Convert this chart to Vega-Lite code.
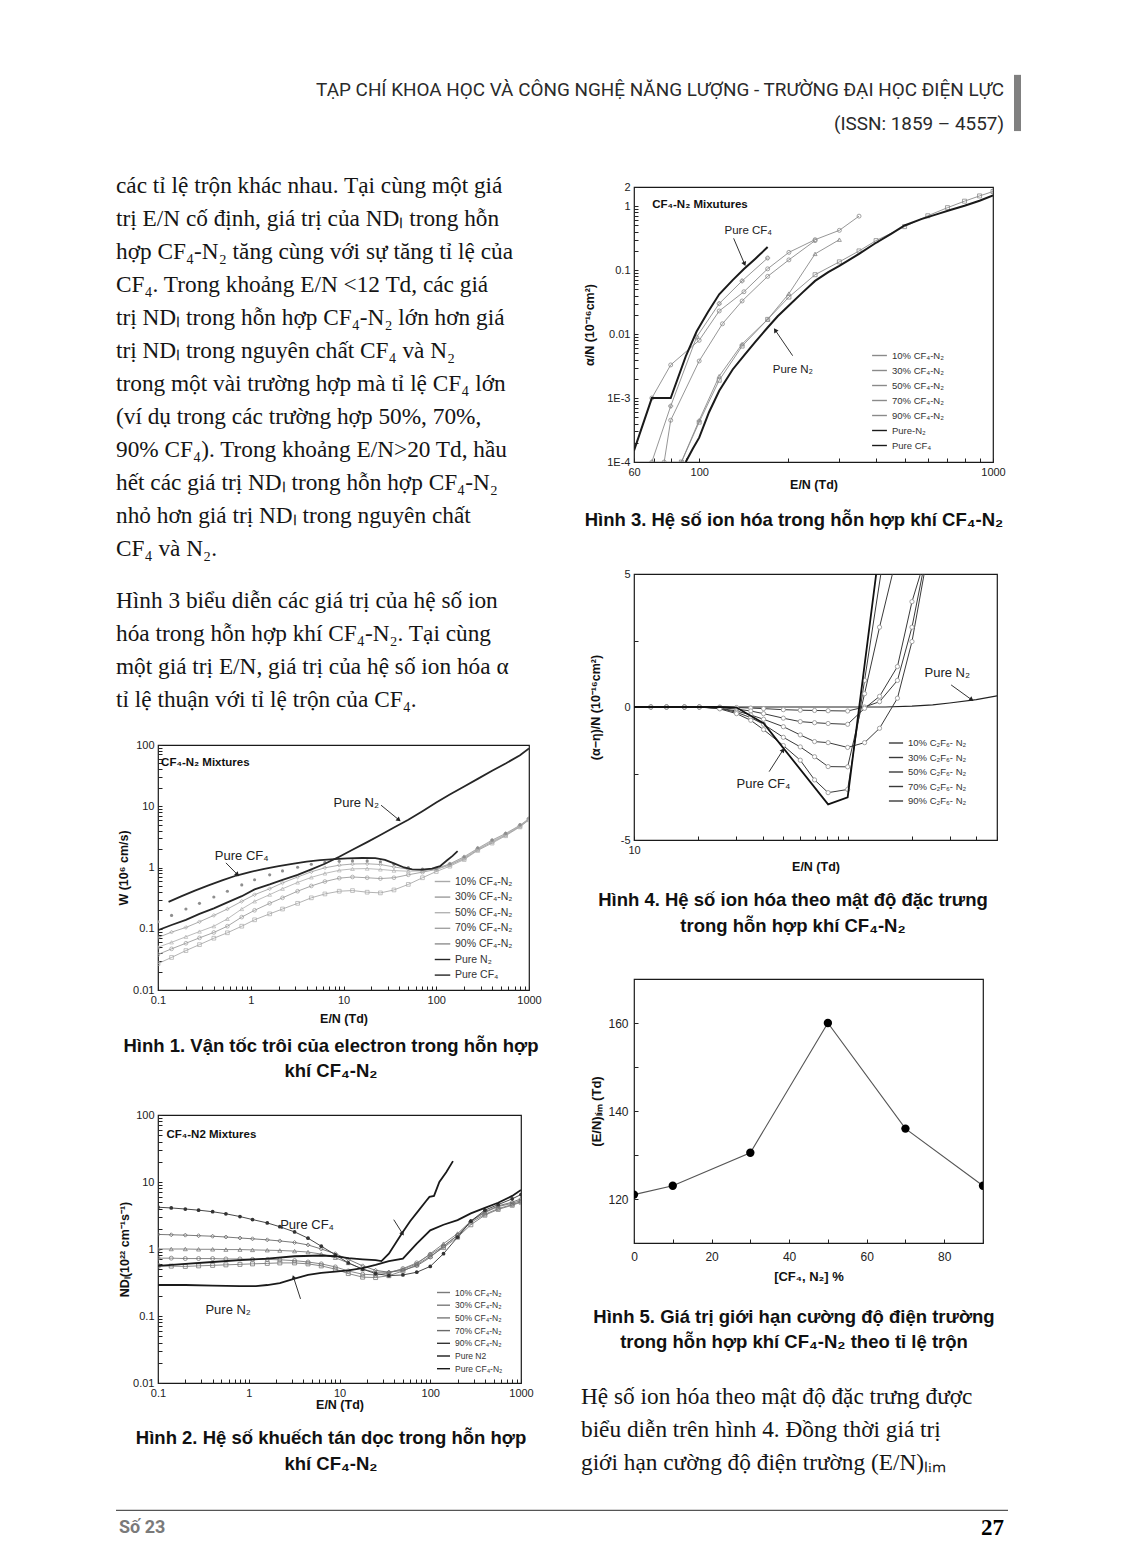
{
"$schema": "https://vega.github.io/schema/vega-lite/v6.json",
"background": "white",
"padding": {"left": 115, "top": 70, "right": 102, "bottom": 20},
"spacing": 0,
"resolve": {"scale": {"color": "independent", "shape": "independent"}, "legend": {"color": "independent", "shape": "independent"}},
"config": {
  "view": {"stroke": null},
  "font": "Liberation Sans",
  "axis": {"domain": false, "grid": false, "tickSize": -4, "tickColor": "#222", "tickWidth": 1, "labelFont": "Liberation Sans", "labelFontSize": 11, "labelColor": "#222", "labelPadding": 8, "labelFlush": false, "labelOverlap": false, "titleFont": "Liberation Sans", "titleFontSize": 12.5, "titleFontWeight": "bold", "titleColor": "#111", "titlePadding": 5},
  "legend": {"orient": "none", "title": null, "labelFont": "Liberation Sans", "labelColor": "#333", "symbolType": "stroke", "symbolStrokeWidth": 1.4, "padding": 0, "labelLimit": 300}
},
"datasets": {
  "f1": [
    {"s": "10% CF₄-N₂", "E": [0.1,0.14,0.2,0.28,0.4,0.56,0.8,1.1,1.6,2.2,3.2,4.5,6.3,9,12.5,18,25,35,50,71,100,140,200,280,400,560,800,1000], "W": [0.027,0.034,0.044,0.055,0.07,0.086,0.11,0.14,0.175,0.21,0.26,0.32,0.37,0.41,0.42,0.395,0.385,0.43,0.53,0.68,0.86,1.05,1.35,1.9,2.5,3.3,4.6,6.0]},
    {"s": "30% CF₄-N₂", "E": [0.1,0.14,0.2,0.28,0.4,0.56,0.8,1.1,1.6,2.2,3.2,4.5,6.3,9,12.5,18,25,35,50,71,100,140,200,280,400,560,800,1000], "W": [0.038,0.047,0.058,0.071,0.087,0.11,0.155,0.2,0.26,0.32,0.41,0.5,0.59,0.67,0.7,0.68,0.66,0.68,0.76,0.84,0.93,1.1,1.4,1.95,2.6,3.4,4.7,6.1]},
    {"s": "50% CF₄-N₂", "E": [0.1,0.14,0.2,0.28,0.4,0.56,0.8,1.1,1.6,2.2,3.2,4.5,6.3,9,12.5,18,25,35,50,71,100,140,200,280,400,560,800,1000], "W": [0.05,0.06,0.074,0.09,0.11,0.145,0.21,0.28,0.36,0.45,0.57,0.69,0.8,0.9,0.95,0.96,0.93,0.89,0.87,0.88,0.95,1.12,1.45,2.0,2.7,3.5,4.8,6.2]},
    {"s": "70% CF₄-N₂", "E": [0.1,0.14,0.2,0.28,0.4,0.56,0.8,1.1,1.6,2.2,3.2,4.5,6.3,9,12.5,18,25,35,50,71,100,140,200,280,400,560,800,1000], "W": [0.072,0.088,0.105,0.13,0.165,0.21,0.28,0.36,0.45,0.56,0.7,0.85,0.99,1.09,1.14,1.15,1.12,1.02,0.94,0.9,0.96,1.15,1.5,2.05,2.8,3.6,4.9,6.3]},
    {"s": "90% CF₄-N₂", "E": [0.1,0.14,0.2,0.28,0.4,0.56,0.8,1.1,1.6,2.2,3.2,4.5,6.3,9,12.5,18,25,35,50,71,100,140,200,280,400,560,800,1000], "W": [0.13,0.165,0.21,0.26,0.33,0.41,0.52,0.63,0.76,0.88,1.01,1.13,1.21,1.26,1.28,1.28,1.24,1.13,1.0,0.94,0.96,1.15,1.5,2.1,2.8,3.6,5.0,6.4]},
    {"s": "Pure N₂", "E": [0.1,0.14,0.2,0.28,0.4,0.56,0.8,1.1,1.6,2.2,3.2,4.5,6.3,9,12.5,18,25,35,50,71,100,140,200,280,400,560,800,1000], "W": [0.095,0.115,0.14,0.175,0.215,0.27,0.34,0.44,0.53,0.63,0.76,0.93,1.15,1.5,1.95,2.6,3.4,4.5,6.0,8.3,11.5,15.5,21,28,38,50,68,88]},
    {"s": "Pure CF₄", "E": [0.13,0.18,0.25,0.35,0.5,0.7,1,1.4,2,2.8,4,5.6,8,11,16,22,28,35,45,55,70,90,110,130,150,170], "W": [0.275,0.34,0.42,0.51,0.62,0.74,0.85,0.95,1.05,1.15,1.25,1.32,1.37,1.41,1.43,1.42,1.33,1.17,1.0,0.93,0.92,0.96,1.05,1.3,1.55,1.85]}
  ],
  "f2": [
    {"s": "10% CF₄-N₂", "E": [0.1,0.14,0.2,0.28,0.4,0.56,0.8,1.1,1.6,2.2,3.2,4.5,6.3,9,12.5,18,25,35,50,71,100,140,200,280,400,560,800,1000], "V": [0.56,0.555,0.55,0.56,0.57,0.58,0.59,0.6,0.61,0.62,0.62,0.6,0.56,0.5,0.43,0.38,0.375,0.4,0.47,0.58,0.78,1.05,1.5,2.3,3.2,3.9,4.5,5.0]},
    {"s": "30% CF₄-N₂", "E": [0.1,0.14,0.2,0.28,0.4,0.56,0.8,1.1,1.6,2.2,3.2,4.5,6.3,9,12.5,18,25,35,50,71,100,140,200,280,400,560,800,1000], "V": [0.73,0.73,0.72,0.72,0.72,0.71,0.71,0.7,0.7,0.69,0.67,0.64,0.6,0.54,0.47,0.42,0.41,0.44,0.51,0.62,0.83,1.1,1.6,2.5,3.3,4.0,4.6,5.1]},
    {"s": "50% CF₄-N₂", "E": [0.1,0.14,0.2,0.28,0.4,0.56,0.8,1.1,1.6,2.2,3.2,4.5,6.3,9,12.5,18,25,35,50,71,100,140,200,280,400,560,800,1000], "V": [1.0,1.0,1.0,0.99,0.99,0.98,0.98,0.97,0.96,0.95,0.93,0.9,0.84,0.74,0.62,0.5,0.45,0.45,0.5,0.6,0.85,1.2,1.7,2.6,3.5,4.3,4.8,5.3]},
    {"s": "70% CF₄-N₂", "E": [0.1,0.14,0.2,0.28,0.4,0.56,0.8,1.1,1.6,2.2,3.2,4.5,6.3,9,12.5,18,25,35,50,71,100,140,200,280,400,560,800,1000], "V": [1.65,1.63,1.61,1.58,1.55,1.51,1.46,1.42,1.37,1.32,1.25,1.15,1.0,0.85,0.7,0.56,0.48,0.45,0.48,0.56,0.75,1.1,1.6,2.6,3.6,4.4,5.0,5.6]},
    {"s": "90% CF₄-N₂", "E": [0.1,0.14,0.2,0.28,0.4,0.56,0.8,1.1,1.6,2.2,3.2,4.5,6.3,9,12.5,18,25,35,50,71,100,140,200,280,400,560,800,1000], "V": [4.2,4.1,3.95,3.8,3.6,3.35,3.05,2.75,2.45,2.15,1.8,1.45,1.1,0.82,0.62,0.5,0.43,0.4,0.41,0.45,0.55,0.85,1.5,2.6,3.8,4.6,5.6,6.5]},
    {"s": "Pure N2", "E": [0.1,0.2,0.4,0.8,1.2,1.6,2.2,3.2,4.5,6.3,9,12.5,18,25,35,50,71,100,140,200,280,400,560,800,1000], "V": [0.29,0.29,0.285,0.28,0.28,0.29,0.31,0.36,0.41,0.44,0.46,0.48,0.52,0.58,0.66,0.72,1.2,1.9,2.3,2.7,3.4,4.1,4.9,6.2,7.6]},
    {"s": "Pure CF₄-N₂", "E": [0.1,0.2,0.4,0.8,1.6,3.2,6.3,9,12.5,18,25,29,35,49,60,75,90,98,110,126,150,178], "V": [0.56,0.6,0.64,0.68,0.72,0.78,0.8,0.78,0.73,0.7,0.68,0.66,0.85,1.73,2.6,3.8,5.2,6.0,6.2,10,14,20.5]}
  ],
  "f3": [
    {"s": "10% CF₄-N₂", "E": [87,100,117,140,171,202,248,300,350,400,500,600,700,800,900,1000], "a": [0.0001,0.00042,0.0019,0.0065,0.017,0.038,0.085,0.135,0.2,0.29,0.48,0.71,0.95,1.2,1.45,1.7]},
    {"s": "30% CF₄-N₂", "E": [76,80,100,120,140,171,202,248], "a": [0.0001,0.00045,0.0038,0.0145,0.033,0.08,0.145,0.29]},
    {"s": "50% CF₄-N₂", "E": [87,100,117,140,171,202,248,300], "a": [0.0001,0.00045,0.0022,0.007,0.017,0.043,0.18,0.3]},
    {"s": "70% CF₄-N₂", "E": [69,80,100,117,142,171,202,248,300,350], "a": [0.001,0.0033,0.008,0.023,0.046,0.105,0.19,0.3,0.42,0.7]},
    {"s": "90% CF₄-N₂", "E": [69,80,98,117,140,171], "a": [0.0001,0.00075,0.009,0.03,0.068,0.155]},
    {"s": "Pure-N₂", "E": [90,95,100,108,117,130,142,155,171,185,202,225,248,275,300,350,394,450,500,570,650,720,800,900,1000], "a": [0.0001,0.00016,0.00024,0.0006,0.0013,0.0028,0.0046,0.0075,0.0127,0.019,0.028,0.045,0.068,0.093,0.117,0.18,0.257,0.37,0.5,0.63,0.76,0.88,1.02,1.22,1.47]},
    {"s": "Pure CF₄", "E": [60,69,80,90,98,107,117,130,142,155,171], "a": [0.00015,0.001,0.001,0.0045,0.011,0.022,0.042,0.07,0.104,0.15,0.23]}
  ],
  "f4": [
    {"s": "10% C₂F₆- N₂", "E": [12,14.2,17.2,20.2,25.2,30.2,35.2,40.4,50,60,70,81,100,120,141,171,200,224], "v": [0,0,0,0,0,-0.02,-0.04,-0.06,-0.1,-0.12,-0.13,-0.14,-0.15,0,0.2,1.0,3.0,5]},
    {"s": "30% C₂F₆- N₂", "E": [12,14.2,17.2,20.2,25.2,30.2,35.2,40.4,50,60,70,81,100,120,141,171,200,219], "v": [0,0,0,0,-0.02,-0.08,-0.15,-0.25,-0.42,-0.55,-0.59,-0.62,-0.65,-0.05,0.4,1.52,3.96,5]},
    {"s": "50% C₂F₆- N₂", "E": [12,14.2,17.2,20.2,25.2,30.2,35.2,40.4,50,60,70,81,100,120,141,171,200,228], "v": [0,0,0,0,-0.05,-0.15,-0.3,-0.46,-0.74,-1.05,-1.3,-1.34,-1.52,-1.34,-0.8,0.33,2.46,5]},
    {"s": "70% C₂F₆- N₂", "E": [12,14.2,17.2,20.2,25.2,30.2,35.2,40.4,50,60,70,81,100,120,141,162], "v": [0,0,0,0,-0.05,-0.2,-0.4,-0.65,-1.14,-1.5,-1.87,-2.24,-2.25,0.5,3.0,5]},
    {"s": "90% C₂F₆- N₂", "E": [12,14.2,17.2,20.2,25.2,30.2,35.2,40.4,50,60,70,81,100,120,143], "v": [0,0,0,0,-0.07,-0.25,-0.5,-0.85,-1.45,-2.0,-2.74,-3.22,-3.1,1.0,5]},
    {"s": "Pure CF₄", "E": [10,25.2,30.2,40.4,81,100,136], "v": [0,0,-0.02,-0.61,-3.66,-3.4,5]},
    {"s": "Pure N₂", "E": [10,150,200,250,300,400,500], "v": [0,0,0.03,0.08,0.15,0.28,0.42]}
  ],
  "f5": [
    {"p": 0, "v": 121}, {"p": 10, "v": 123}, {"p": 30, "v": 130.5}, {"p": 50, "v": 160}, {"p": 70, "v": 136}, {"p": 90, "v": 123}
  ]
},
"vconcat": [
  {
    "width": 863, "height": 95,
    "layer": [
      {"data": {"values": [{"i": 0, "t": "TẠP CHÍ KHOA HỌC VÀ CÔNG NGHỆ NĂNG LƯỢNG - TRƯỜNG ĐẠI HỌC ĐIỆN LỰC"}, {"i": 1, "t": "(ISSN: 1859 – 4557)"}]},
       "mark": {"type": "text", "align": "right", "baseline": "middle", "font": "Roboto", "fontSize": 18.9, "color": "#2a2a2a"},
       "encoding": {
         "x": {"datum": 0.9803, "type": "quantitative", "scale": {"domain": [0, 1]}, "axis": null},
         "y": {"field": "i", "type": "quantitative", "scale": {"domain": [-0.5143, 2.2], "reverse": true}, "axis": null},
         "text": {"field": "t"}}},
      {"data": {"values": [{}]},
       "mark": {"type": "rect", "color": "#808080"},
       "encoding": {
         "x": {"datum": 0.9919, "type": "quantitative"}, "x2": {"datum": 1.0},
         "y": {"datum": -0.457, "type": "quantitative"}, "y2": {"datum": 1.2}}}
    ]
  },
  {
    "spacing": 15,
    "resolve": {"scale": {"color": "independent", "shape": "independent"}, "legend": {"color": "independent", "shape": "independent"}},
    "hconcat": [
      {
        "bounds": "flush", "spacing": 0,
        "resolve": {"scale": {"color": "independent", "shape": "independent"}, "legend": {"color": "independent", "shape": "independent"}},
        "vconcat": [
          {
            "width": 408, "height": 405,
            "data": {"values": [
              {"i": 0, "t": "các tỉ lệ trộn khác nhau. Tại cùng một giá"},
              {"i": 1, "t": "trị E/N cố định, giá trị của NDₗ trong hỗn"},
              {"i": 2, "t": "hợp CF₄-N₂ tăng cùng với sự tăng tỉ lệ của"},
              {"i": 3, "t": "CF₄. Trong khoảng E/N <12 Td, các giá"},
              {"i": 4, "t": "trị NDₗ trong hỗn hợp CF₄-N₂ lớn hơn giá"},
              {"i": 5, "t": "trị NDₗ trong nguyên chất CF₄ và N₂"},
              {"i": 6, "t": "trong một vài trường hợp mà tỉ lệ CF₄ lớn"},
              {"i": 7, "t": "(ví dụ trong các trường hợp 50%, 70%,"},
              {"i": 8, "t": "90% CF₄). Trong khoảng E/N>20 Td, hầu"},
              {"i": 9, "t": "hết các giá trị NDₗ trong hỗn hợp CF₄-N₂"},
              {"i": 10, "t": "nhỏ hơn giá trị NDₗ trong nguyên chất"},
              {"i": 11, "t": "CF₄ và N₂."}
            ]},
            "mark": {"type": "text", "align": "left", "baseline": "middle", "font": "Liberation Serif", "fontSize": 23.3, "color": "#151515", "dx": -42},
            "encoding": {
              "x": {"datum": 0, "type": "quantitative", "scale": {"domain": [0, 1]}, "axis": null},
              "y": {"field": "i", "type": "quantitative", "scale": {"domain": [-0.6364, 11.6364], "reverse": true}, "axis": null},
              "text": {"field": "t"}}
          },
          {
            "width": 408, "height": 175,
            "data": {"values": [
              {"i": 0, "t": "Hình 3 biểu diễn các giá trị của hệ số ion"},
              {"i": 1, "t": "hóa trong hỗn hợp khí CF₄-N₂. Tại cùng"},
              {"i": 2, "t": "một giá trị E/N, giá trị của hệ số ion hóa α"},
              {"i": 3, "t": "tỉ lệ thuận với tỉ lệ trộn của CF₄."}
            ]},
            "mark": {"type": "text", "align": "left", "baseline": "middle", "font": "Liberation Serif", "fontSize": 23.3, "color": "#151515", "dx": -42},
            "encoding": {
              "x": {"datum": 0, "type": "quantitative", "scale": {"domain": [0, 1]}, "axis": null},
              "y": {"field": "i", "type": "quantitative", "scale": {"domain": [-0.9394, 4.3636], "reverse": true}, "axis": null},
              "text": {"field": "t"}}
          },
          {
            "width": 371, "height": 245,
            "view": {"stroke": "#1a1a1a", "strokeWidth": 1.2},
            "encoding": {
              "x": {"field": "E", "type": "quantitative", "scale": {"type": "log", "domain": [0.1, 1000]},
                    "axis": {"title": "E/N (Td)", "format": "~g", "values": [0.1,0.2,0.3,0.4,0.5,0.6,0.7,0.8,0.9,1,2,3,4,5,6,7,8,9,10,20,30,40,50,60,70,80,90,100,200,300,400,500,600,700,800,900,1000],
                             "labelExpr": "abs(log(datum.value)/LN10 - round(log(datum.value)/LN10)) < 0.01 ? datum.label : ''", "titlePadding": 7}},
              "y": {"field": "W", "type": "quantitative", "scale": {"type": "log", "domain": [0.01, 100]},
                    "axis": {"title": "W (10⁶ cm/s)", "format": "~g", "titlePadding": 2, "values": [0.01,0.02,0.03,0.04,0.05,0.06,0.07,0.08,0.09,0.1,0.2,0.3,0.4,0.5,0.6,0.7,0.8,0.9,1,2,3,4,5,6,7,8,9,10,20,30,40,50,60,70,80,90,100],
                             "labelExpr": "abs(log(datum.value)/LN10 - round(log(datum.value)/LN10)) < 0.01 ? datum.label : ''"}}
            },
            "layer": [
              {"data": {"name": "f1"}, "transform": [{"flatten": ["E", "W"]}, {"filter": {"field": "s", "oneOf": ["10% CF₄-N₂", "30% CF₄-N₂", "50% CF₄-N₂", "70% CF₄-N₂"]}}],
               "mark": {"type": "line", "strokeWidth": 0.9, "clip": true},
               "encoding": {"color": {"field": "s", "type": "nominal",
                  "scale": {"domain": ["10% CF₄-N₂", "30% CF₄-N₂", "50% CF₄-N₂", "70% CF₄-N₂", "90% CF₄-N₂", "Pure N₂", "Pure CF₄"], "range": ["#a9a9a9", "#9c9c9c", "#b3b3b3", "#a2a2a2", "#8e8e8e", "#262626", "#262626"]},
                  "legend": {"orient": "none", "legendX": 276, "legendY": 128, "labelFontSize": 10.5, "symbolSize": 240, "rowPadding": 1.6}}}},
              {"data": {"name": "f1"}, "transform": [{"flatten": ["E", "W"]}, {"filter": {"field": "s", "oneOf": ["10% CF₄-N₂", "30% CF₄-N₂", "50% CF₄-N₂", "70% CF₄-N₂"]}}],
               "mark": {"type": "point", "filled": false, "size": 14, "strokeWidth": 0.7, "opacity": 1, "clip": true},
               "encoding": {"color": {"field": "s", "type": "nominal"},
                  "shape": {"field": "s", "type": "nominal", "scale": {"domain": ["10% CF₄-N₂", "30% CF₄-N₂", "50% CF₄-N₂", "70% CF₄-N₂"], "range": ["square", "circle", "triangle-up", "diamond"]}, "legend": null}}},
              {"data": {"name": "f1"}, "transform": [{"flatten": ["E", "W"]}, {"filter": {"field": "s", "equal": "90% CF₄-N₂"}}],
               "mark": {"type": "point", "filled": true, "size": 10, "opacity": 1, "clip": true},
               "encoding": {"color": {"field": "s", "type": "nominal"}}},
              {"data": {"name": "f1"}, "transform": [{"flatten": ["E", "W"]}, {"filter": {"field": "s", "oneOf": ["Pure N₂", "Pure CF₄"]}}],
               "mark": {"type": "line", "strokeWidth": 1.8, "clip": true},
               "encoding": {"color": {"field": "s", "type": "nominal"}}},
              {"data": {"values": [{"E": 0.108, "W": 50, "t": "CF₄-N₂ Mixtures"}]},
               "mark": {"type": "text", "align": "left", "baseline": "middle", "fontWeight": "bold", "fontSize": 11.5, "color": "#111"},
               "encoding": {"text": {"field": "t"}}},
              {"data": {"values": [{"E": 7.8, "W": 11.4, "t": "Pure N₂"}, {"E": 0.41, "W": 1.53, "t": "Pure CF₄"}]},
               "mark": {"type": "text", "align": "left", "baseline": "middle", "fontSize": 13, "color": "#222"},
               "encoding": {"text": {"field": "t"}}},
              {"data": {"values": [{"E": 25.4, "W": 10.4, "E2": 39, "W2": 6.1}, {"E": 0.54, "W": 1.19, "E2": 0.71, "W2": 0.78}]},
               "mark": {"type": "rule", "color": "#333", "strokeWidth": 1},
               "encoding": {"x2": {"field": "E2"}, "y2": {"field": "W2"}}},
              {"data": {"values": [{"E": 39, "W": 6.1}]}, "mark": {"type": "point", "shape": "triangle", "angle": 129, "filled": true, "size": 26, "color": "#222", "opacity": 1}},
              {"data": {"values": [{"E": 0.71, "W": 0.78}]}, "mark": {"type": "point", "shape": "triangle", "angle": 135, "filled": true, "size": 26, "color": "#222", "opacity": 1}}
            ]
          },
          {
            "width": 346, "height": 125,
            "data": {"values": [{"i": 0, "t": "Hình 1. Vận tốc trôi của electron trong hỗn hợp"}, {"i": 1, "t": "khí CF₄-N₂"}]},
            "mark": {"type": "text", "align": "center", "baseline": "middle", "font": "Liberation Sans", "fontWeight": "bold", "fontSize": 18.5, "color": "#111"},
            "encoding": {
              "x": {"datum": 0.5, "type": "quantitative", "scale": {"domain": [0, 1]}, "axis": null},
              "y": {"field": "i", "type": "quantitative", "scale": {"domain": [-2.24, 2.76], "reverse": true}, "axis": null},
              "text": {"field": "t"}}
          },
          {
            "width": 363, "height": 268,
            "view": {"stroke": "#1a1a1a", "strokeWidth": 1.2},
            "encoding": {
              "x": {"field": "E", "type": "quantitative", "scale": {"type": "log", "domain": [0.1, 1000]},
                    "axis": {"title": "E/N (Td)", "format": "~g", "values": [0.1,0.2,0.3,0.4,0.5,0.6,0.7,0.8,0.9,1,2,3,4,5,6,7,8,9,10,20,30,40,50,60,70,80,90,100,200,300,400,500,600,700,800,900,1000],
                             "labelExpr": "abs(log(datum.value)/LN10 - round(log(datum.value)/LN10)) < 0.01 ? datum.label : ''", "titlePadding": 0}},
              "y": {"field": "V", "type": "quantitative", "scale": {"type": "log", "domain": [0.01, 100]},
                    "axis": {"title": "NDₗ(10²² cm⁻¹s⁻¹)", "format": "~g", "titlePadding": 1, "values": [0.01,0.02,0.03,0.04,0.05,0.06,0.07,0.08,0.09,0.1,0.2,0.3,0.4,0.5,0.6,0.7,0.8,0.9,1,2,3,4,5,6,7,8,9,10,20,30,40,50,60,70,80,90,100],
                             "labelExpr": "abs(log(datum.value)/LN10 - round(log(datum.value)/LN10)) < 0.01 ? datum.label : ''"}}
            },
            "layer": [
              {"data": {"name": "f2"}, "transform": [{"flatten": ["E", "V"]}, {"filter": {"field": "s", "oneOf": ["10% CF₄-N₂", "30% CF₄-N₂", "50% CF₄-N₂", "70% CF₄-N₂", "90% CF₄-N₂"]}}],
               "mark": {"type": "line", "strokeWidth": 0.9, "clip": true},
               "encoding": {"color": {"field": "s", "type": "nominal",
                  "scale": {"domain": ["10% CF₄-N₂", "30% CF₄-N₂", "50% CF₄-N₂", "70% CF₄-N₂", "90% CF₄-N₂", "Pure N2", "Pure CF₄-N₂"], "range": ["#7a7a7a", "#7a7a7a", "#7a7a7a", "#6a6a6a", "#333333", "#1a1a1a", "#1a1a1a"]},
                  "legend": {"orient": "none", "legendX": 278, "legendY": 170, "labelFontSize": 8.5, "symbolSize": 170, "rowPadding": 0.7}}}},
              {"data": {"name": "f2"}, "transform": [{"flatten": ["E", "V"]}, {"filter": {"field": "s", "oneOf": ["10% CF₄-N₂", "30% CF₄-N₂", "50% CF₄-N₂", "70% CF₄-N₂"]}}],
               "mark": {"type": "point", "filled": false, "size": 16, "strokeWidth": 0.8, "opacity": 1, "clip": true},
               "encoding": {"color": {"field": "s", "type": "nominal"},
                  "shape": {"field": "s", "type": "nominal", "scale": {"domain": ["10% CF₄-N₂", "30% CF₄-N₂", "50% CF₄-N₂", "70% CF₄-N₂"], "range": ["square", "circle", "triangle-up", "diamond"]}, "legend": null}}},
              {"data": {"name": "f2"}, "transform": [{"flatten": ["E", "V"]}, {"filter": {"field": "s", "equal": "90% CF₄-N₂"}}],
               "mark": {"type": "point", "filled": true, "size": 14, "opacity": 1, "clip": true},
               "encoding": {"color": {"field": "s", "type": "nominal"}}},
              {"data": {"name": "f2"}, "transform": [{"flatten": ["E", "V"]}, {"filter": {"field": "s", "oneOf": ["Pure N2", "Pure CF₄-N₂"]}}],
               "mark": {"type": "line", "strokeWidth": 1.8, "clip": true},
               "encoding": {"color": {"field": "s", "type": "nominal"}}},
              {"data": {"values": [{"E": 0.124, "V": 51, "t": "CF₄-N2 Mixtures"}]},
               "mark": {"type": "text", "align": "left", "baseline": "middle", "fontWeight": "bold", "fontSize": 11.5, "color": "#111"},
               "encoding": {"text": {"field": "t"}}},
              {"data": {"values": [{"E": 2.22, "V": 2.31, "t": "Pure CF₄"}, {"E": 0.333, "V": 0.124, "t": "Pure N₂"}]},
               "mark": {"type": "text", "align": "left", "baseline": "middle", "fontSize": 13, "color": "#222"},
               "encoding": {"text": {"field": "t"}}},
              {"data": {"values": [{"E": 3.72, "V": 0.18, "E2": 3.13, "V2": 0.37}, {"E": 39.6, "V": 2.74, "E2": 49.1, "V2": 1.73}]},
               "mark": {"type": "rule", "color": "#333", "strokeWidth": 1},
               "encoding": {"x2": {"field": "E2"}, "y2": {"field": "V2"}}},
              {"data": {"values": [{"E": 3.13, "V": 0.37}]}, "mark": {"type": "point", "shape": "triangle", "angle": 342, "filled": true, "size": 26, "color": "#222", "opacity": 1}},
              {"data": {"values": [{"E": 49.1, "V": 1.73}]}, "mark": {"type": "point", "shape": "triangle", "angle": 148, "filled": true, "size": 26, "color": "#222", "opacity": 1}}
            ]
          },
          {
            "width": 346, "height": 117,
            "data": {"values": [{"i": 0, "t": "Hình 2. Hệ số khuếch tán dọc trong hỗn hợp"}, {"i": 1, "t": "khí CF₄-N₂"}]},
            "mark": {"type": "text", "align": "center", "baseline": "middle", "font": "Liberation Sans", "fontWeight": "bold", "fontSize": 18.5, "color": "#111"},
            "encoding": {
              "x": {"datum": 0.5, "type": "quantitative", "scale": {"domain": [0, 1]}, "axis": null},
              "y": {"field": "i", "type": "quantitative", "scale": {"domain": [-2.1154, 2.3846], "reverse": true}, "axis": null},
              "text": {"field": "t"}}
          }
        ]
      },
      {
        "bounds": "flush", "spacing": 0,
        "resolve": {"scale": {"color": "independent", "shape": "independent"}, "legend": {"color": "independent", "shape": "independent"}},
        "vconcat": [
          {"width": 359, "height": 22, "data": {"values": [{"t": ""}]}, "mark": "text", "encoding": {"text": {"field": "t"}}},
          {
            "width": 359, "height": 275,
            "view": {"stroke": "#1a1a1a", "strokeWidth": 1.2},
            "encoding": {
              "x": {"field": "E", "type": "quantitative", "scale": {"type": "log", "domain": [60, 1000]},
                    "axis": {"title": "E/N (Td)", "format": "~g", "values": [60,70,80,90,100,200,300,400,500,600,700,800,900,1000],
                             "labelExpr": "indexof([60,100,1000], datum.value) >= 0 ? datum.label : ''", "titlePadding": 1}},
              "y": {"field": "a", "type": "quantitative", "scale": {"type": "log", "domain": [0.0001, 2]},
                    "axis": {"title": "α/N (10⁻¹⁶cm²)", "format": "~g", "titlePadding": 10,
                             "values": [0.0001,0.0002,0.0003,0.0004,0.0005,0.0006,0.0007,0.0008,0.0009,0.001,0.002,0.003,0.004,0.005,0.006,0.007,0.008,0.009,0.01,0.02,0.03,0.04,0.05,0.06,0.07,0.08,0.09,0.1,0.2,0.3,0.4,0.5,0.6,0.7,0.8,0.9,1,2],
                             "labelExpr": "datum.value == 2 ? '2' : (abs(log(datum.value)/LN10 - round(log(datum.value)/LN10)) < 0.01 ? (datum.value >= 0.01 ? datum.label : (datum.value > 0.0005 ? '1E-3' : '1E-4')) : '')"}}
            },
            "layer": [
              {"data": {"name": "f3"}, "transform": [{"flatten": ["E", "a"]}, {"filter": {"field": "s", "oneOf": ["10% CF₄-N₂", "30% CF₄-N₂", "50% CF₄-N₂", "70% CF₄-N₂", "90% CF₄-N₂"]}}],
               "mark": {"type": "line", "strokeWidth": 0.9, "clip": true},
               "encoding": {"color": {"field": "s", "type": "nominal",
                  "scale": {"domain": ["10% CF₄-N₂", "30% CF₄-N₂", "50% CF₄-N₂", "70% CF₄-N₂", "90% CF₄-N₂", "Pure-N₂", "Pure CF₄"], "range": ["#8a8a8a", "#8a8a8a", "#8a8a8a", "#8a8a8a", "#8a8a8a", "#1a1a1a", "#1a1a1a"]},
                  "legend": {"orient": "none", "legendX": 237, "legendY": 160, "labelFontSize": 9.5, "symbolSize": 220, "rowPadding": 2}}}},
              {"data": {"name": "f3"}, "transform": [{"flatten": ["E", "a"]}, {"filter": {"field": "s", "oneOf": ["10% CF₄-N₂", "30% CF₄-N₂", "50% CF₄-N₂", "70% CF₄-N₂", "90% CF₄-N₂"]}}],
               "mark": {"type": "point", "filled": false, "size": 16, "strokeWidth": 0.8, "opacity": 1, "clip": true},
               "encoding": {"color": {"field": "s", "type": "nominal"},
                  "shape": {"field": "s", "type": "nominal", "scale": {"domain": ["10% CF₄-N₂", "30% CF₄-N₂", "50% CF₄-N₂", "70% CF₄-N₂", "90% CF₄-N₂"], "range": ["square", "circle", "triangle-up", "circle", "cross"]}, "legend": null}}},
              {"data": {"name": "f3"}, "transform": [{"flatten": ["E", "a"]}, {"filter": {"field": "s", "oneOf": ["Pure-N₂", "Pure CF₄"]}}],
               "mark": {"type": "line", "strokeWidth": 2, "clip": true},
               "encoding": {"color": {"field": "s", "type": "nominal"}}},
              {"data": {"values": [{"E": 69.2, "a": 1.06, "t": "CF₄-N₂ Mixutures"}]},
               "mark": {"type": "text", "align": "left", "baseline": "middle", "fontWeight": "bold", "fontSize": 11.5, "color": "#111"},
               "encoding": {"text": {"field": "t"}}},
              {"data": {"values": [{"E": 122, "a": 0.416, "t": "Pure CF₄"}, {"E": 178, "a": 0.0027, "t": "Pure N₂"}]},
               "mark": {"type": "text", "align": "left", "baseline": "middle", "fontSize": 11.5, "color": "#222"},
               "encoding": {"text": {"field": "t"}}},
              {"data": {"values": [{"E": 131, "a": 0.315, "E2": 142.4, "a2": 0.128}, {"E": 208, "a": 0.0046, "E2": 182, "a2": 0.0113}]},
               "mark": {"type": "rule", "color": "#333", "strokeWidth": 1},
               "encoding": {"x2": {"field": "E2"}, "y2": {"field": "a2"}}},
              {"data": {"values": [{"E": 142.4, "a": 0.128}]}, "mark": {"type": "point", "shape": "triangle", "angle": 157, "filled": true, "size": 26, "color": "#222", "opacity": 1}},
              {"data": {"values": [{"E": 182, "a": 0.0113}]}, "mark": {"type": "point", "shape": "triangle", "angle": 326, "filled": true, "size": 26, "color": "#222", "opacity": 1}}
            ]
          },
          {
            "width": 320, "height": 112,
            "data": {"values": [{"i": 0, "t": "Hình 3. Hệ số ion hóa trong hỗn hợp khí CF₄-N₂"}]},
            "mark": {"type": "text", "align": "center", "baseline": "middle", "font": "Liberation Sans", "fontWeight": "bold", "fontSize": 18.5, "color": "#111"},
            "encoding": {
              "x": {"datum": 0.5, "type": "quantitative", "scale": {"domain": [0, 1]}, "axis": null},
              "y": {"field": "i", "type": "quantitative", "scale": {"domain": [-2.32, 2.16], "reverse": true}, "axis": null},
              "text": {"field": "t"}}
          },
          {
            "width": 363, "height": 266,
            "view": {"stroke": "#1a1a1a", "strokeWidth": 1.2},
            "encoding": {
              "x": {"field": "E", "type": "quantitative", "scale": {"type": "log", "domain": [10, 500]},
                    "axis": {"title": "E/N (Td)", "values": [10,20,30,40,50,60,70,80,90,100,200,300,400,500],
                             "labelExpr": "datum.value == 10 ? '10' : ''", "titlePadding": 5}},
              "y": {"field": "v", "type": "quantitative", "scale": {"domain": [-5, 5]},
                    "axis": {"title": "(α−η)/N (10⁻¹⁶cm²)", "values": [-5, -2.5, 0, 2.5, 5], "titlePadding": 18,
                             "labelExpr": "datum.value == 5 ? '5' : (datum.value == 0 ? '0' : (datum.value == -5 ? '-5' : ''))"}}
            },
            "layer": [
              {"data": {"values": [{}]}, "mark": {"type": "rule", "color": "#555", "strokeWidth": 0.8}, "encoding": {"y": {"datum": 0}, "x": null}},
              {"data": {"name": "f4"}, "transform": [{"flatten": ["E", "v"]}, {"filter": {"field": "s", "equal": "Pure N₂"}}],
               "mark": {"type": "line", "strokeWidth": 1.2, "color": "#222", "clip": true}},
              {"data": {"name": "f4"}, "transform": [{"flatten": ["E", "v"]}, {"filter": {"field": "s", "oneOf": ["10% C₂F₆- N₂", "30% C₂F₆- N₂", "50% C₂F₆- N₂", "70% C₂F₆- N₂", "90% C₂F₆- N₂"]}}],
               "mark": {"type": "line", "strokeWidth": 1, "clip": true},
               "encoding": {"color": {"field": "s", "type": "nominal",
                  "scale": {"domain": ["10% C₂F₆- N₂", "30% C₂F₆- N₂", "50% C₂F₆- N₂", "70% C₂F₆- N₂", "90% C₂F₆- N₂"], "range": ["#3a3a3a", "#3a3a3a", "#3a3a3a", "#3a3a3a", "#3a3a3a"]},
                  "legend": {"orient": "none", "legendX": 254, "legendY": 161, "labelFontSize": 9.5, "symbolSize": 200, "rowPadding": 1.5}}}},
              {"data": {"name": "f4"}, "transform": [{"flatten": ["E", "v"]}, {"filter": {"field": "s", "oneOf": ["10% C₂F₆- N₂", "30% C₂F₆- N₂", "50% C₂F₆- N₂", "70% C₂F₆- N₂", "90% C₂F₆- N₂"]}}, {"filter": "datum.v < 4.9"}],
               "mark": {"type": "point", "shape": "circle", "fill": "white", "stroke": "#9a9a9a", "strokeWidth": 0.9, "size": 18, "opacity": 1, "clip": true}},
              {"data": {"name": "f4"}, "transform": [{"flatten": ["E", "v"]}, {"filter": {"field": "s", "equal": "Pure CF₄"}}],
               "mark": {"type": "line", "strokeWidth": 1.8, "color": "#111", "clip": true}},
              {"data": {"values": [{"E": 229, "v": 1.29, "t": "Pure N₂"}, {"E": 30.2, "v": -2.91, "t": "Pure CF₄"}]},
               "mark": {"type": "text", "align": "left", "baseline": "middle", "fontSize": 13, "color": "#222"},
               "encoding": {"text": {"field": "t"}}},
              {"data": {"values": [{"E": 305, "v": 0.83, "E2": 378, "v2": 0.29}, {"E": 42.9, "v": -2.43, "E2": 49.6, "v2": -1.64}]},
               "mark": {"type": "rule", "color": "#333", "strokeWidth": 1},
               "encoding": {"x2": {"field": "E2"}, "y2": {"field": "v2"}}},
              {"data": {"values": [{"E": 378, "v": 0.29}]}, "mark": {"type": "point", "shape": "triangle", "angle": 126, "filled": true, "size": 26, "color": "#222", "opacity": 1}},
              {"data": {"values": [{"E": 49.6, "v": -1.64}]}, "mark": {"type": "point", "shape": "triangle", "angle": 33, "filled": true, "size": 26, "color": "#222", "opacity": 1}}
            ]
          },
          {
            "width": 318, "height": 139,
            "data": {"values": [{"i": 0, "t": "Hình 4. Hệ số ion hóa theo mật độ đặc trưng"}, {"i": 1, "t": "trong hỗn hợp khí CF₄-N₂"}]},
            "mark": {"type": "text", "align": "center", "baseline": "middle", "font": "Liberation Sans", "fontWeight": "bold", "fontSize": 18.5, "color": "#111"},
            "encoding": {
              "x": {"datum": 0.5, "type": "quantitative", "scale": {"domain": [0, 1]}, "axis": null},
              "y": {"field": "i", "type": "quantitative", "scale": {"domain": [-2.3077, 3.0385], "reverse": true}, "axis": null},
              "text": {"field": "t"}}
          },
          {
            "width": 349, "height": 264,
            "view": {"stroke": "#1a1a1a", "strokeWidth": 1.2},
            "data": {"name": "f5"},
            "encoding": {
              "x": {"field": "p", "type": "quantitative", "scale": {"domain": [0, 90]},
                    "axis": {"title": "[CF₄, N₂] %", "values": [0,10,20,30,40,50,60,70,80,90], "labelExpr": "datum.value % 20 == 0 ? datum.label : ''", "labelPadding": 12, "titlePadding": 8, "labelFontSize": 12, "titleFontSize": 13}},
              "y": {"field": "v", "type": "quantitative", "scale": {"domain": [110, 170]},
                    "axis": {"title": "(E/N)ₗᵢₘ (Td)", "values": [110,120,130,140,150,160,170], "labelPadding": 10, "titlePadding": 4, "labelFontSize": 12, "titleFontSize": 13,
                             "labelExpr": "(datum.value == 120 || datum.value == 140 || datum.value == 160) ? datum.label : ''"}}
            },
            "layer": [
              {"mark": {"type": "line", "color": "#555", "strokeWidth": 1.1}},
              {"mark": {"type": "point", "filled": true, "color": "#000", "size": 70, "opacity": 1, "clip": true}}
            ]
          },
          {
            "width": 320, "height": 127,
            "data": {"values": [{"i": 0, "t": "Hình 5. Giá trị giới hạn cường độ điện trường"}, {"i": 1, "t": "trong hỗn hợp khí CF₄-N₂ theo tỉ lệ trộn"}]},
            "mark": {"type": "text", "align": "center", "baseline": "middle", "font": "Liberation Sans", "fontWeight": "bold", "fontSize": 18.5, "color": "#111"},
            "encoding": {
              "x": {"datum": 0.5, "type": "quantitative", "scale": {"domain": [0, 1]}, "axis": null},
              "y": {"field": "i", "type": "quantitative", "scale": {"domain": [-2.96, 2.12], "reverse": true}, "axis": null},
              "text": {"field": "t"}}
          },
          {
            "width": 359, "height": 130,
            "data": {"values": [
              {"i": 0, "t": "Hệ số ion hóa theo mật độ đặc trưng được"},
              {"i": 1, "t": "biểu diễn trên hình 4. Đồng thời giá trị"},
              {"i": 2, "t": "giới hạn cường độ điện trường (E/N)ₗᵢₘ"}
            ]},
            "mark": {"type": "text", "align": "left", "baseline": "middle", "font": "Liberation Serif", "fontSize": 23.3, "color": "#151515", "dx": -53},
            "encoding": {
              "x": {"datum": 0, "type": "quantitative", "scale": {"domain": [0, 1]}, "axis": null},
              "y": {"field": "i", "type": "quantitative", "scale": {"domain": [-0.8182, 3.1212], "reverse": true}, "axis": null},
              "text": {"field": "t"}}
          }
        ]
      }
    ]
  },
  {
    "width": 850, "height": 45,
    "layer": [
      {"data": {"values": [{}]}, "mark": {"type": "rule", "color": "#555", "strokeWidth": 1.3},
       "encoding": {
         "x": {"datum": -0.0494, "type": "quantitative", "scale": {"domain": [0, 1]}, "axis": null}, "x2": {"datum": 1},
         "y": {"datum": 0, "type": "quantitative", "scale": {"domain": [-0.4737, 1.8947], "reverse": true}, "axis": null}}},
      {"data": {"values": [{"t": "Số 23"}]}, "mark": {"type": "text", "align": "left", "baseline": "middle", "font": "Roboto", "fontWeight": "bold", "fontSize": 18, "color": "#7a7a7a"},
       "encoding": {"x": {"datum": -0.0459, "type": "quantitative"}, "y": {"datum": 1, "type": "quantitative"}, "text": {"field": "t"}}},
      {"data": {"values": [{"t": "27"}]}, "mark": {"type": "text", "align": "right", "baseline": "middle", "font": "Liberation Serif", "fontWeight": "bold", "fontSize": 23, "color": "#000"},
       "encoding": {"x": {"datum": 0.9953, "type": "quantitative"}, "y": {"datum": 1, "type": "quantitative"}, "text": {"field": "t"}}}
    ]
  }
]
}
